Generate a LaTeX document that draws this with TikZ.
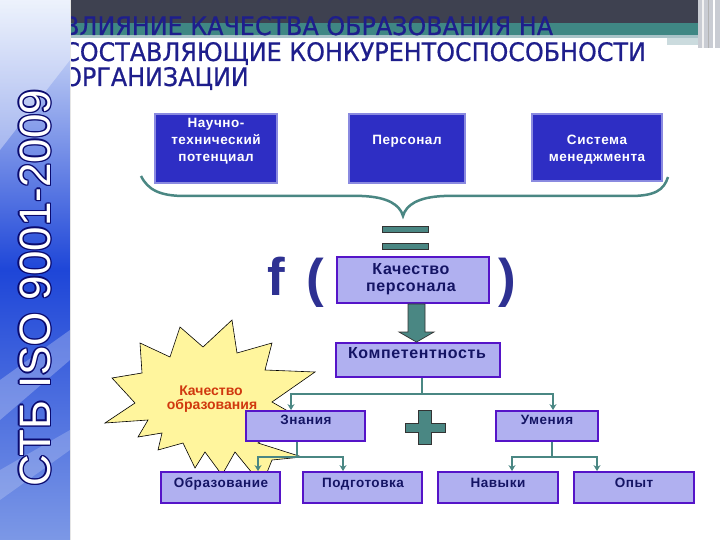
\documentclass[tikz,border=0pt]{standalone}
\usepackage{fontspec}
\setmainfont{Liberation Sans}
\newfontfamily\titlefont[FakeStretch=0.935,FakeBold=0.6]{DejaVu Sans}
\newfontfamily\boxfont[LetterSpace=4]{Liberation Sans}
\newfontfamily\stripfont{Liberation Sans}
\usetikzlibrary{arrows.meta,calc}
\definecolor{darkbar}{HTML}{3E4150}
\definecolor{tealband}{HTML}{3F8784}
\definecolor{lightband}{HTML}{A9C3C8}
\definecolor{graybox}{HTML}{C9CCD3}
\definecolor{titleblue}{HTML}{1E1E8C}
\definecolor{boxblue}{HTML}{2E2EC4}
\definecolor{boxbord}{HTML}{8A8AE0}
\definecolor{lav}{HTML}{B0B0F0}
\definecolor{lavbord}{HTML}{5514C8}
\definecolor{navytext}{HTML}{141464}
\definecolor{tealc}{HTML}{4A8783}
\definecolor{fblue}{HTML}{2E3192}
\definecolor{staryel}{HTML}{FFF59D}
\definecolor{starred}{HTML}{D0380E}
\definecolor{stripTop}{HTML}{E4ECFB}
\definecolor{stripMid}{HTML}{1E46D8}
\definecolor{stripBot}{HTML}{7C98E6}
\definecolor{stripnavy}{HTML}{0A0A6E}
\begin{document}
\begin{tikzpicture}[x=1pt,y=-1pt,
  titletext/.style={font=\titlefont\fontsize{25.5}{25.5}\selectfont, text=titleblue, inner sep=0pt, anchor=base west},
  tbox/.style={draw=boxbord, line width=1.5pt, fill=boxblue, inner sep=0pt},
  lbox/.style={draw=lavbord, line width=1.8pt, fill=lav, inner sep=0pt},
  btext/.style={font=\boxfont\bfseries\fontsize{13.5}{17}\selectfont, text=white, align=center, inner sep=0pt},
  ltext/.style={font=\boxfont\bfseries\fontsize{16}{17}\selectfont, text=navytext, align=center, inner sep=0pt},
  stext/.style={font=\boxfont\bfseries\fontsize{13.5}{17}\selectfont, text=navytext, inner sep=0pt, anchor=base},
  conn/.style={draw=tealc, line width=2pt},
  arr/.style={-{Stealth[length=6pt,width=7pt]}},
  bigsym/.style={font=\bfseries\fontsize{53}{53}\selectfont, text=fblue, inner sep=0pt, anchor=base},
  tealshape/.style={fill=tealc, draw=black!80, line width=0.7pt}
]
\useasboundingbox (0,0) rectangle (720,540);
\fill[white] (0,0) rectangle (720,540);
% top decoration
\fill[darkbar] (70,0) rectangle (698,23);
\fill[tealband] (70,23) rectangle (698,35);
\fill[lightband] (70,35) rectangle (698,38);
\fill[lightband!60] (667,38) rectangle (698,45);
\fill[graybox] (698,0) rectangle (720,48);
\draw[white!90!gray, line width=1.5pt] (703,0) -- (703,48);
\draw[gray!60, line width=0.8pt] (708,0) -- (708,48);
\draw[white, line width=1.2pt] (714,0) -- (714,48);
% title
\node[titletext] (t1) at (63,35) {ВЛИЯНИЕ КАЧЕСТВА ОБРАЗОВАНИЯ НА};
\node[titletext] (t2) at (63,61) {СОСТАВЛЯЮЩИЕ КОНКУРЕНТОСПОСОБНОСТИ};
\node[titletext] (t3) at (63,86) {ОРГАНИЗАЦИИ};
% left strip
\shade[top color=stripTop, bottom color=stripBot, middle color=stripMid] (0,0) rectangle (70,540);
\fill[white, opacity=0.35] (0,0) -- (70,0) -- (70,60) -- (0,150) -- cycle;
\fill[white, opacity=0.25] (0,380) -- (70,330) -- (70,360) -- (0,420) -- cycle;
\fill[white, opacity=0.2] (0,470) -- (70,430) -- (70,450) -- (0,500) -- cycle;
\draw[white!80!gray, line width=1pt] (70.5,0) -- (70.5,540);
\foreach \dx/\dy [count=\i] in {1.3/0,-1.3/0,0/1.3,0/-1.3,0.95/0.95,-0.95/0.95,0.95/-0.95,-0.95/-0.95}
  \node[rotate=90, font=\stripfont\fontsize{44}{44}\selectfont, text=stripnavy, inner sep=0pt] (sc\i) at (35+\dx,288+\dy) {СТБ ISO 9001-2009};
\node[rotate=90, font=\stripfont\fontsize{44}{44}\selectfont, text=white, inner sep=0pt] (strip) at (35,288) {СТБ ISO 9001-2009};
% top boxes
\node[tbox, minimum width=122, minimum height=69] (sci) at (216,148.5) {};
\node[btext] (scit) at (216,141.5) {Научно-\\технический\\потенциал};
\node[tbox, minimum width=116, minimum height=69] (pers) at (407,148.5) {};
\node[btext, anchor=base] (perst) at (407,145) {Персонал};
\node[tbox, minimum width=130, minimum height=67] (sys) at (597,147.5) {};
\node[btext] (syst) at (597,150) {Система\\менеджмента};
% brace
\draw[tealc, line width=2.5pt] (141,176) .. controls (148,190) and (160,196) .. (185,196)
  -- (362,196) .. controls (388,197) and (400,205) .. (403,216)
  .. controls (406,205) and (418,197) .. (444,196)
  -- (630,196) .. controls (655,196) and (664,190) .. (668,177);
% equals
\draw[tealshape] (382,226) rectangle (428,232);
\draw[tealshape] (382,243) rectangle (428,249);
% f ( )
\node[bigsym] (f) at (276,295) {f};
\node[bigsym] (lp) at (315,296) {(};
\node[bigsym] (rp) at (507,296) {)};
% quality of personnel
\node[lbox, minimum width=152, minimum height=46] (kp) at (413,280) {};
\node[ltext] (kpt) at (411,279) {Качество\\персонала};
% competence
\node[lbox, minimum width=164, minimum height=34] (komp) at (418,360) {};
\node[ltext, anchor=base] (kompt) at (417,358) {Компетентность};
% big arrow
\draw[tealshape] ([xshift=-5pt]kp.south) -- ([xshift=12pt]kp.south) -- ([xshift=12pt]kp.south |- 0,332) -- (434,332)
  -- ([xshift=-1.5pt]komp.north) -- (399,332) -- ([xshift=-5pt]kp.south |- 0,332) -- cycle;
% star
\draw[fill=staryel, draw=black, line width=0.6pt]
 (232,320) -- (237,353) -- (272,343) -- (265,370) -- (315,372) -- (272,402) -- (300,418) -- (258,443)
 -- (302,457) -- (272,460) -- (262,485) -- (235,452) -- (222,475) -- (205,452) -- (195,468) -- (183,443)
 -- (158,450) -- (162,433) -- (138,437) -- (148,420) -- (105,423) -- (135,403) -- (112,378) -- (142,373)
 -- (140,343) -- (170,357) -- (180,327) -- (203,347) -- cycle;
\node[font=\bfseries\fontsize{14}{17}\selectfont, text=starred, inner sep=0pt, anchor=base] (st1) at (211,395) {Качество};
\node[font=\bfseries\fontsize{14}{17}\selectfont, text=starred, inner sep=0pt, anchor=base] (st2) at (212,409) {образования};
% knowledge & skills
\node[lbox, minimum width=119, minimum height=30] (zn) at (305.5,426) {};
\node[stext] (znt) at (306,424) {Знания};
\node[lbox, minimum width=102, minimum height=30] (um) at (547,426) {};
\node[stext] (umt) at (547,424) {Умения};
% plus
\draw[tealshape] (418,410) -- (431,410) -- (431,423) -- (445,423) -- (445,432) -- (431,432) -- (431,444)
  -- (418,444) -- (418,432) -- (405,432) -- (405,423) -- (418,423) -- cycle;
% bottom boxes
\node[lbox, minimum width=119, minimum height=31] (obr) at (220.5,487.5) {};
\node[stext] (obrt) at (221,487) {Образование};
\node[lbox, minimum width=119, minimum height=31] (podg) at (362.5,487.5) {};
\node[stext] (podgt) at (363,487) {Подготовка};
\node[lbox, minimum width=120, minimum height=31] (nav) at (498,487.5) {};
\node[stext] (navt) at (498,487) {Навыки};
\node[lbox, minimum width=120, minimum height=31] (opyt) at (634,487.5) {};
\node[stext] (opytt) at (634,487) {Опыт};
% connectors
\draw[conn] ([xshift=4pt]komp.south) -- ++(0,16) coordinate (j1);
\draw[conn,arr] (j1) -| ([xshift=-14.5pt]zn.north);
\draw[conn,arr] (j1) -| ([xshift=6pt]um.north);
\draw[conn] ([xshift=-8.5pt]zn.south) -- ++(0,15) coordinate (j2);
\draw[conn,arr] (j2) -| ([xshift=37.5pt]obr.north);
\draw[conn,arr] (j2) -| ([xshift=-19.5pt]podg.north);
\draw[conn] ([xshift=5pt]um.south) -- ++(0,15) coordinate (j3);
\draw[conn,arr] (j3) -| ([xshift=14pt]nav.north);
\draw[conn,arr] (j3) -| ([xshift=-37pt]opyt.north);
\end{tikzpicture}
\end{document}
